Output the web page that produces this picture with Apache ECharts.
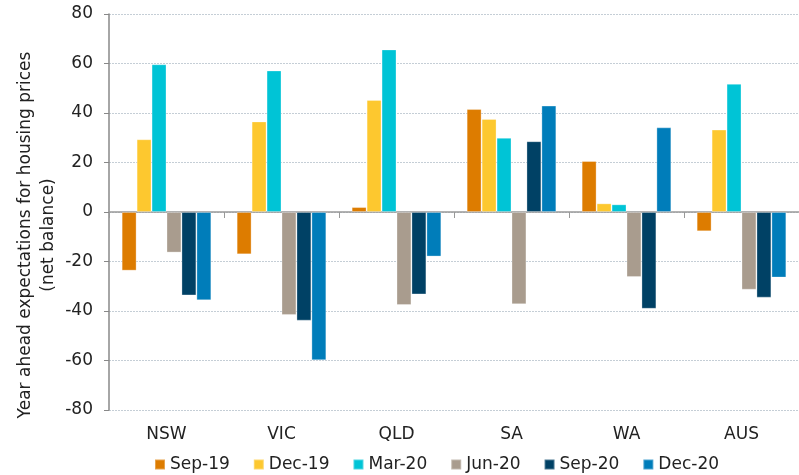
<!DOCTYPE html>
<html>
<head>
<meta charset="utf-8">
<script src="https://cdn.jsdelivr.net/npm/echarts@6/dist/echarts.min.js"></script>
<style>
html,body{margin:0;padding:0;background:#fff;}
#chart{width:799px;height:475px;}
</style>
</head>
<body>
<div id="chart"></div>
<script>
const categories = ['NSW', 'VIC', 'QLD', 'SA', 'WA', 'AUS'];
const seriesNames = ['Sep-19', 'Dec-19', 'Mar-20', 'Jun-20', 'Sep-20', 'Dec-20'];
const sep19 = [-23.7, -17.1, 2.0, 41.6, 20.6, -7.8];
const dec19 = [29.4, 36.6, 45.3, 37.6, 3.5, 33.3];
const mar20 = [59.7, 57.2, 65.7, 30.0, 3.1, 51.8];
const jun20 = [-16.4, -41.6, -37.6, -37.3, -26.3, -31.4];
const sep20 = [-33.7, -43.9, -33.3, 28.6, -39.1, -34.6];
const dec20 = [-35.7, -59.9, -18.0, 43.0, 34.2, -26.5];
const yTicks = [-80, -60, -40, -20, 0, 20, 40, 60, 80];
const colors = ['#DD7C00', '#FDC82F', '#00C4D6', '#A99C8E', '#004165', '#007DBA'];
const values = [sep19, dec19, mar20, jun20, sep20, dec20];

const FONT = 'DejaVu Sans';
const chart = echarts.init(document.getElementById('chart'));
chart.setOption({
  animation: false,
  color: colors,
  grid: {left: 109, right: 0, top: 14, bottom: 65, containLabel: false},
  legend: {
    left: 154, top: 456, padding: 0,
    itemWidth: 10, itemHeight: 10, itemGap: 23,
    icon: 'rect',
    textStyle: {fontFamily: FONT, fontSize: 17, color: '#222'},
    data: seriesNames
  },
  xAxis: [{
    type: 'category', data: categories, position: 'bottom',
    axisLine: {show: false, onZero: false}, axisTick: {show: false},
    axisLabel: {fontFamily: FONT, fontSize: 17, color: '#222', margin: 16}
  }, {
    type: 'category', data: categories, position: 'bottom',
    axisLine: {show: true, onZero: true, lineStyle: {color: '#999', width: 1.5}},
    axisTick: {show: true, length: 6, lineStyle: {color: '#999'}},
    axisLabel: {show: false}
  }],
  yAxis: {
    type: 'value', min: yTicks[0], max: yTicks[yTicks.length - 1], interval: 20,
    axisLine: {show: true, lineStyle: {color: '#888', width: 1.5}},
    axisTick: {show: true, length: 5, lineStyle: {color: '#888'}},
    axisLabel: {fontFamily: FONT, fontSize: 17, color: '#222', margin: 16},
    splitLine: {show: true, lineStyle: {color: '#C5CED6', type: [2, 1], width: 1}}
  },
  graphic: [{
    type: 'text', x: 37.5, y: 235, rotation: Math.PI / 2,
    style: {
      text: 'Year ahead expectations for housing prices\n(net balance)',
      fontFamily: FONT, fontSize: 17, fill: '#222', lineHeight: 23,
      textAlign: 'center', textVerticalAlign: 'middle'
    }
  }],
  series: seriesNames.map((n, i) => ({
    name: n, type: 'bar', xAxisIndex: 0, data: values[i],
    barGap: '0%', barCategoryGap: '22%',
    itemStyle: {color: colors[i], borderColor: 'rgba(255,255,255,0.3)', borderWidth: 1}
  }))
});
</script>
</body>
</html>
